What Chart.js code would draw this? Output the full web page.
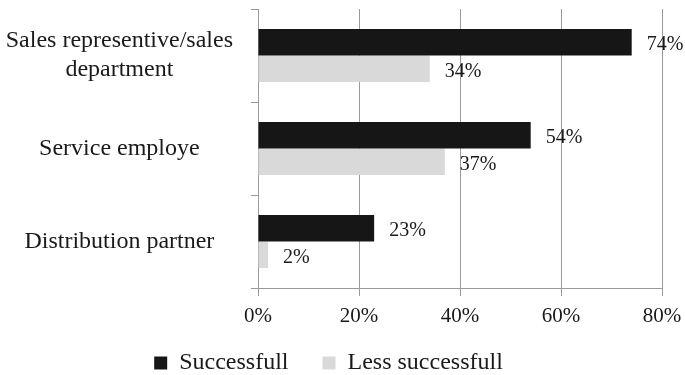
<!DOCTYPE html>
<html>
<head>
<meta charset="utf-8">
<script src="https://cdn.jsdelivr.net/npm/chart.js@4"></script>
<style>
  html, body { margin: 0; padding: 0; background: #fff; }
</style>
</head>
<body>
<canvas id="barChart" width="685" height="375"></canvas>
<script>
// categories and values (percent)
const categories = [['Sales representive/sales', 'department'], 'Service employe', 'Distribution partner'];
const successfull = [74, 54, 23];
const lessSuccessfull = [34, 37, 2];
const xTicks = [0, 20, 40, 60, 80];

const serif = '"Liberation Serif", "Times New Roman", serif';
const gridGrey = '#9a9a9a';
const textColor = '#1a1a1a';

// draws the "74%" style labels right of each bar
const valueLabels = {
    id: 'valueLabels',
    afterDatasetsDraw(chart) {
        const c = chart.ctx;
        c.save();
        c.font = '20px ' + serif;
        c.fillStyle = textColor;
        c.textBaseline = 'middle';
        c.textAlign = 'left';
        chart.data.datasets.forEach((ds, i) => {
            chart.getDatasetMeta(i).data.forEach((bar, j) => {
                c.fillText(ds.data[j] + '%', bar.x + 15, bar.y + 3);
            });
        });
        c.restore();
    }
};

// keeps the legend compact: wide gaps between items but small height
const legendPlace = {
    id: 'legendPlace',
    beforeUpdate(chart) {
        const lg = chart.legend;
        if (lg && !lg._patched) {
            const fit = lg.fit;
            lg.fit = function () { fit.call(this); this.height = 48; };
            lg._patched = true;
        }
    },
    afterLayout(chart) {
        const lg = chart.legend;
        lg.top = 317;
        lg.bottom = chart.height;
        lg.height = lg.bottom - lg.top;
        lg.left -= 14;
        lg.right -= 14;
    }
};

new Chart(document.getElementById('barChart').getContext('2d'), {
    type: 'bar',
    data: {
        labels: categories,
        datasets: [{
            label: 'Successfull',
            data: successfull,
            backgroundColor: '#161616',
            categoryPercentage: 0.57,
            barPercentage: 1
        }, {
            label: 'Less successfull',
            data: lessSuccessfull,
            backgroundColor: '#d9d9d9',
            categoryPercentage: 0.57,
            barPercentage: 1
        }]
    },
    options: {
        indexAxis: 'y',
        responsive: false,
        animation: false,
        devicePixelRatio: 1,
        layout: { padding: { top: 9, right: 0, left: 0, bottom: 0 } },
        scales: {
            x: {
                min: 0,
                max: 80,
                afterBuildTicks: scale => { scale.ticks = xTicks.map(v => ({ value: v })); },
                afterFit: scale => {
                    scale.height = 39;
                    scale.paddingLeft = 0;
                    scale.paddingRight = 23;
                },
                border: { display: true, color: gridGrey },
                grid: { color: gridGrey, lineWidth: 1, tickLength: 8 },
                ticks: {
                    callback: v => v + '%',
                    font: { family: serif, size: 21 },
                    color: textColor,
                    padding: 8,
                    maxRotation: 0
                }
            },
            y: {
                afterFit: scale => {
                    scale.width = 258;
                    scale.paddingTop = 0;
                    scale.paddingBottom = 0;
                },
                border: { display: true, color: gridGrey },
                grid: { drawOnChartArea: false, color: gridGrey, tickLength: 7 },
                ticks: {
                    font: { family: serif, size: 24 },
                    color: textColor,
                    padding: 18,
                    crossAlign: 'center'
                }
            }
        },
        plugins: {
            legend: {
                position: 'bottom',
                labels: {
                    font: { family: serif, size: 24 },
                    color: textColor,
                    boxWidth: 13,
                    boxHeight: 13,
                    padding: 34
                }
            },
            tooltip: { enabled: false }
        }
    },
    plugins: [valueLabels, legendPlace]
});
</script>
</body>
</html>
